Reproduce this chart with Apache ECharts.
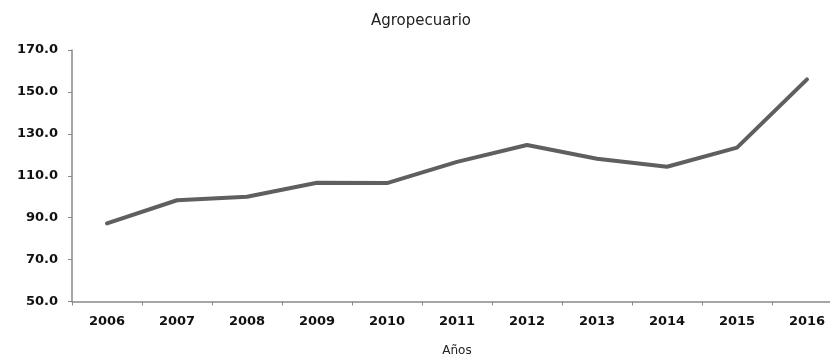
<!DOCTYPE html>
<html>
<head>
<meta charset="utf-8">
<script src="https://cdn.jsdelivr.net/npm/echarts@6/dist/echarts.min.js"></script>
<style>
    html, body { margin: 0; padding: 0; background: #fff; }
    #chart { width: 830px; height: 358px; }
</style>
</head>
<body>
<div id="chart"></div>
<script>
const years = ["2006", "2007", "2008", "2009", "2010", "2011", "2012", "2013", "2014", "2015", "2016"];
const values = [87.3, 98.3, 100.0, 106.7, 106.5, 116.6, 124.7, 118.1, 114.3, 123.4, 156.0];

const AXIS_GRAY = "#898989";
const LINE_GRAY = "#5f5f5f";

const chart = echarts.init(document.getElementById("chart"));
chart.setOption({
    animation: false,
    backgroundColor: "#ffffff",
    title: {
        text: "Agropecuario",
        left: 366,
        top: 9,
        textStyle: { fontFamily: "DejaVu Sans", fontSize: 15, fontWeight: "normal", color: "#222" },
    },
    grid: { left: 72, width: 770, top: 50, bottom: 56.5, outerBoundsMode: "none", containLabel: false },
    xAxis: {
        type: "category",
        data: years,
        boundaryGap: true,
        name: "Años",
        nameLocation: "middle",
        nameGap: 43,
        nameTextStyle: { fontFamily: "DejaVu Sans", fontSize: 12, color: "#222" },
        axisLine: { lineStyle: { color: AXIS_GRAY, width: 1.5 } },
        axisTick: { show: true, length: 4, lineStyle: { color: AXIS_GRAY } },
        axisLabel: { margin: 14, fontFamily: "DejaVu Sans", fontWeight: "bold", fontSize: 13, color: "#111" },
        splitLine: { show: false },
    },
    yAxis: {
        type: "value",
        min: 50,
        max: 170,
        interval: 20,
        axisLine: { show: true, lineStyle: { color: AXIS_GRAY, width: 1.5 } },
        axisTick: { show: true, length: 4, lineStyle: { color: AXIS_GRAY } },
        axisLabel: {
            margin: 14,
            fontFamily: "DejaVu Sans",
            fontWeight: "bold",
            fontSize: 13,
            color: "#111",
            formatter: (v) => v.toFixed(1),
        },
        splitLine: { show: false },
    },
    series: [{
        type: "line",
        data: values,
        symbol: "none",
        lineStyle: { color: LINE_GRAY, width: 4, cap: "round", join: "round" },
    }],
});
</script>
</body>
</html>
